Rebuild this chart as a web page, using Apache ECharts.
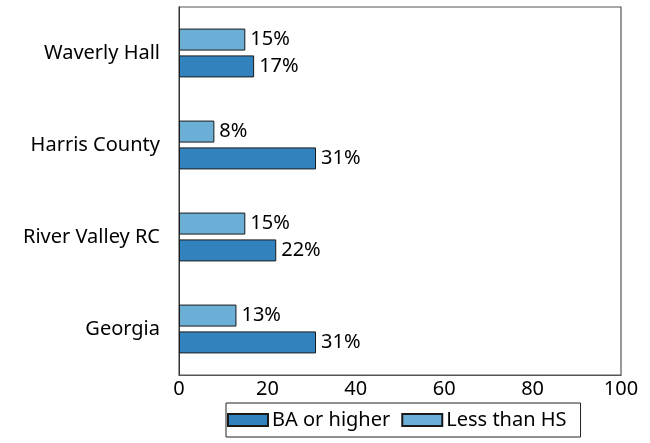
<!DOCTYPE html>
<html>
<head>
<meta charset="utf-8">
<script src="https://cdn.jsdelivr.net/npm/echarts@6/dist/echarts.min.js"></script>
<style>html,body{margin:0;padding:0;background:#fff;}#c{width:650px;height:443px;}</style>
</head>
<body>
<div id="c"></div>
<script>
const categories = ["Georgia", "River Valley RC", "Harris County", "Waverly Hall"];
const baOrHigher = [31, 22, 31, 17];
const lessThanHS = [13, 15, 8, 15];
const xTicks = { min: 0, max: 100, interval: 20 };

const FONT = "Noto Sans";
const FS = 20;
const chart = echarts.init(document.getElementById('c'), null, { renderer: 'canvas' });
const label = { show: true, position: 'right', formatter: '{c}%', color: '#000', fontSize: FS, fontFamily: FONT, distance: 5 };
chart.setOption({
  animation: false,
  textStyle: { fontFamily: FONT },
  grid: { left: 179, right: 29, top: 7, bottom: 68, show: true, borderColor: '#555', borderWidth: 1.2, containLabel: false },
  legend: {
    left: 226, top: 403, orient: 'horizontal',
    padding: [7, 14, 7, 1], itemGap: 11, itemWidth: 40, itemHeight: 12,
    borderColor: '#222', borderWidth: 1, borderRadius: 0,
    textStyle: { fontSize: FS, color: '#000', fontFamily: FONT, padding: [0, 0, 0, -1] },
    data: [
      { name: 'BA or higher', icon: 'rect' },
      { name: 'Less than HS', icon: 'rect' }
    ]
  },
  xAxis: {
    type: 'value', min: xTicks.min, max: xTicks.max, interval: xTicks.interval,
    axisLine: { show: true, lineStyle: { color: '#555' } },
    axisTick: { show: false }, splitLine: { show: false },
    axisLabel: { color: '#000', fontSize: FS, fontFamily: FONT, margin: 4 }
  },
  yAxis: {
    type: 'category', data: categories,
    axisLine: { show: true, lineStyle: { color: '#333' } },
    axisTick: { show: false },
    axisLabel: { color: '#000', fontSize: FS, fontFamily: FONT, margin: 19 }
  },
  series: [
    { name: 'Less than HS', type: 'bar', data: lessThanHS, barWidth: 22, barGap: '22%',
      itemStyle: { color: '#6baed6', borderColor: '#1a1a1a', borderWidth: 1 }, label },
    { name: 'BA or higher', type: 'bar', data: baOrHigher, barWidth: 22, barGap: '22%',
      itemStyle: { color: '#3282bd', borderColor: '#1a1a1a', borderWidth: 1 }, label }
  ]
});
</script>
</body>
</html>
